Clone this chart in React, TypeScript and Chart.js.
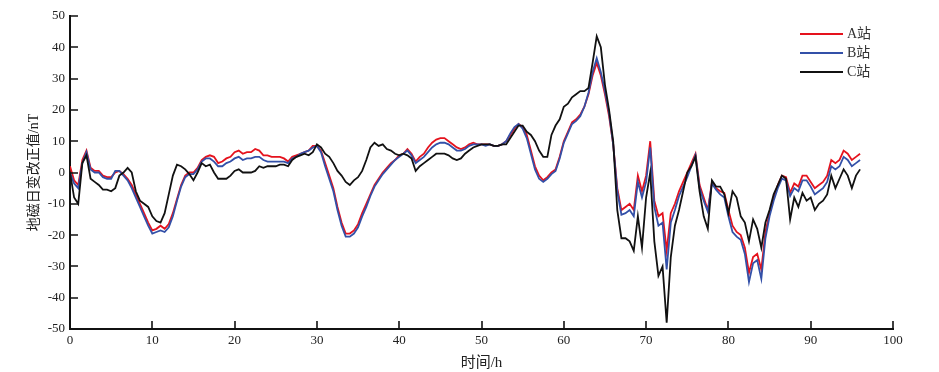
import React, { useEffect, useRef } from "react";
import { Chart, registerables } from "chart.js";

Chart.register(...registerables);

// Sampling step of the series (hours)
const TIME_STEP_H = 0.5;

const SERIES_NAMES = ["A站", "B站", "C站"];
const SERIES_COLORS = ["#e5121d", "#3350a8", "#111111"];

const X_TICKS = [0, 10, 20, 30, 40, 50, 60, 70, 80, 90, 100];
const Y_TICKS = [-50, -40, -30, -20, -10, 0, 10, 20, 30, 40, 50];

// A站 (red), every 0.5 h from 0 to 96 h
const A_STATION = [
  2, -2.5, -4, 4, 7, 1.5, 0.5, 0.5, -1, -1.5,
  -1.5, 0, 0.5, -0.5, -2, -4, -7, -10, -13, -16,
  -18.5, -18, -17, -18, -16.5, -13, -8.5, -4, -1, 0,
  0, 1.5, 4, 5, 5.5, 5, 3, 3.5, 4.5, 5,
  6.5, 7, 6, 6.5, 6.5, 7.5, 7, 5.5, 5.5, 5,
  5, 5, 4.5, 3.5, 5, 5.5, 6, 6.5, 7, 8.5,
  8.5, 7, 3, -1, -5, -11, -16, -19.5, -19.5, -18.5,
  -16.5, -13, -10, -7, -4, -2, 0, 1.5, 3, 4,
  5.5, 6, 7.5, 6, 3.5, 5, 6, 8, 9.5, 10.5,
  11, 11, 10, 9, 8, 7.5, 8, 9, 9.5, 9,
  9, 9, 9, 8.5, 8.5, 9, 10, 12, 14, 15.5,
  14.5, 12, 7, 2, -1, -2.5, -1.5, 0, 1, 5,
  10, 13, 16, 17, 18.5, 21, 25, 31, 35, 31,
  25, 18, 9, -5, -12, -11, -10, -12, -1, -6,
  -1, 10, -9, -14, -13, -25, -13, -10, -6, -3,
  0, 3, 6, -4, -8, -12, -3, -5, -6, -6.5,
  -12, -17, -19, -20, -24, -32, -27, -26, -31, -19,
  -13, -8, -4, -1, -1.5, -6.5, -3.5, -4.5, -1, -1,
  -3, -5, -4, -3, -1, 4, 3, 4, 7, 6,
  4, 5, 6,
];

// B站 (blue)
const B_STATION = [
  0, -3.5, -5, 3, 6.5, 1, 0, 0, -1.5, -2,
  -2, 0.5, 0.5, -1, -2.5, -5, -8, -11, -14, -17,
  -19.5, -19, -18.5, -19, -17.5, -14, -9, -4.5, -1.5, -0.5,
  -0.5, 1, 3.5, 4.5, 4.5, 3.5, 2, 2, 3, 3.5,
  4.5, 5, 4, 4.5, 4.5, 5, 5, 4, 3.5, 3.5,
  3.5, 3.5, 3.5, 3, 4.5, 5, 6, 6.5, 7, 8,
  8.5, 6.5, 2, -2, -6, -12, -17, -20.5, -20.5, -19.5,
  -17.5, -14, -11, -7.5, -4.5, -2.5, -0.5, 1, 2.5, 4,
  5, 6, 7, 5.5, 3, 4, 5, 6.5, 8, 9,
  9.5, 9.5, 9, 8, 7, 7, 7.5, 8.5, 9, 9,
  9, 8.5, 9, 8.5, 8.5, 9, 10, 12.5, 14.5, 15.5,
  14, 11, 6, 1, -2, -3, -2, -0.5, 0.5, 4.5,
  9.5, 12.5, 15.5, 16.5, 18, 21, 25.5, 32, 36.5, 32,
  26, 19, 9, -6, -13.5, -13, -12, -14, -3, -8,
  -3, 8, -11, -17, -16, -31, -16, -12, -7.5, -4.5,
  -1.5, 2, 5.5, -5, -9, -12.5, -3.5, -5.5, -7, -8,
  -14, -19, -20.5, -21.5, -26, -35, -29, -28, -34, -21,
  -14, -9, -5, -2, -2.5, -7.5, -5, -6, -2.5, -2.5,
  -4.5, -7, -6, -5, -3, 2, 1, 2, 5, 4,
  2, 3, 4,
];

// C站 (black)
const C_STATION = [
  0, -8, -10, 3, 5.5, -2, -3, -4, -5.5, -5.5,
  -6, -5, -1, 0, 1.5, 0, -6, -9, -10, -11,
  -14, -15.5, -16, -13, -7, -1, 2.5, 2, 1, -0.5,
  -2.5, 0, 3, 2, 2.5, 0, -2, -2, -2, -1,
  0.5, 1, 0, 0, 0, 0.5, 2, 1.5, 2, 2,
  2, 2.5, 2.5, 2, 4, 5, 5.5, 6, 5.5, 6.5,
  9, 8, 6, 5, 3, 0.5, -1, -3, -4, -2.5,
  -1.5, 0.5, 4, 8, 9.5, 8.5, 9, 7.5, 7, 6,
  5.5, 6, 5.5, 4.5, 0.5, 2, 3, 4, 5, 6,
  6, 6, 5.5, 4.5, 4, 4.5, 6, 7, 8, 8.5,
  9, 9, 9, 8.5, 8.5, 9, 9, 11, 13, 15,
  15, 13, 12, 10, 7, 5, 5, 12, 15, 17,
  21, 22, 24, 25, 26, 26, 27, 35, 43.5, 40,
  28, 20, 10, -12, -21, -21, -22, -25, -14, -24,
  -8, 0, -22, -33, -30, -48, -27, -17, -12, -6,
  0, 2, 5, -6, -14, -18, -2.5, -4.5, -4.5, -7,
  -13, -6, -8, -14, -16, -22, -15, -18, -24, -16,
  -12, -7, -4, -1, -2, -15, -8, -11, -6.5, -9,
  -8, -12, -10, -9, -7, -1, -5, -2, 1, -1,
  -5, -1, 1,
];

const SERIES = [A_STATION, B_STATION, C_STATION];

const FONT_FAMILY = '"Liberation Serif", "Times New Roman", "Noto Sans CJK SC", serif';

const inwardTicks = {
  id: "inwardTicks",
  afterDraw(chart: any) {
    const { ctx, chartArea, scales } = chart;
    const len = 8;
    ctx.save();
    ctx.strokeStyle = "#111";
    ctx.lineWidth = 1.6;
    ctx.beginPath();
    for (const v of X_TICKS) {
      const px = Math.round(scales.x.getPixelForValue(v));
      ctx.moveTo(px, chartArea.bottom);
      ctx.lineTo(px, chartArea.bottom - len);
    }
    for (const v of Y_TICKS) {
      const py = Math.round(scales.y.getPixelForValue(v));
      ctx.moveTo(chartArea.left, py);
      ctx.lineTo(chartArea.left + len, py);
    }
    ctx.stroke();
    ctx.restore();
  },
};

const boxLegend = {
  id: "boxLegend",
  afterDraw(chart: any) {
    const { ctx } = chart;
    const x0 = 800;
    const lineLen = 43;
    const y0 = 34;
    const gap = 19;
    ctx.save();
    ctx.font = "14px " + FONT_FAMILY;
    ctx.textBaseline = "middle";
    ctx.textAlign = "left";
    chart.data.datasets.forEach((ds: any, i: number) => {
      const y = y0 + i * gap;
      ctx.strokeStyle = ds.borderColor;
      ctx.lineWidth = 2;
      ctx.beginPath();
      ctx.moveTo(x0, y);
      ctx.lineTo(x0 + lineLen, y);
      ctx.stroke();
      ctx.fillStyle = "#333";
      ctx.fillText(ds.label, x0 + lineLen + 4, y + 0.5);
    });
    ctx.restore();
  },
};

export default function App() {
  const ref = useRef<HTMLCanvasElement | null>(null);

  useEffect(() => {
    if (!ref.current) return;
    const datasets = SERIES.map((vals, i) => ({
      label: SERIES_NAMES[i],
      data: vals.map((v, k) => ({ x: k * TIME_STEP_H, y: v })),
      borderColor: SERIES_COLORS[i],
      backgroundColor: SERIES_COLORS[i],
      borderWidth: 1.8,
      pointRadius: 0,
      tension: 0,
      fill: false,
      order: 2 - i,
    }));
    const chart = new Chart(ref.current, {
      type: "line",
      data: { datasets },
      plugins: [inwardTicks, boxLegend],
      options: {
        animation: false,
        responsive: false,
        maintainAspectRatio: false,
        layout: { padding: { left: 0, top: 16, right: 46, bottom: 0 } },
        plugins: {
          legend: { display: false },
          tooltip: { enabled: false },
        },
        scales: {
          x: {
            type: "linear",
            min: 0,
            max: 100,
            afterFit: (s: any) => {
              s.height = 43;
            },
            afterBuildTicks: (s: any) => {
              s.ticks = X_TICKS.map((v) => ({ value: v }));
            },
            grid: { display: false },
            border: { display: true, color: "#111", width: 2 },
            ticks: {
              color: "#222",
              padding: -4,
              maxRotation: 0,
              font: { family: FONT_FAMILY, size: 13 },
            },
            title: {
              display: true,
              text: "时间/h",
              color: "#222",
              padding: { top: 0, bottom: 0 },
              font: { family: FONT_FAMILY, size: 15 },
            },
          },
          y: {
            type: "linear",
            min: -50,
            max: 50,
            afterFit: (s: any) => {
              s.width = 70;
            },
            afterBuildTicks: (s: any) => {
              s.ticks = Y_TICKS.map((v) => ({ value: v }));
            },
            grid: { display: false },
            border: { display: true, color: "#111", width: 2 },
            ticks: {
              color: "#222",
              padding: -3,
              font: { family: FONT_FAMILY, size: 13 },
            },
            title: {
              display: true,
              text: "地磁日变改正值/nT",
              color: "#222",
              padding: { top: 26, bottom: 0 },
              font: { family: FONT_FAMILY, size: 14 },
            },
          },
        },
      },
    });
    return () => chart.destroy();
  }, []);

  return (
    <div style={{ position: "fixed", left: 0, top: 0, width: 939, height: 372, background: "#fff" }}>
      <canvas ref={ref} width={939} height={372} style={{ width: 939, height: 372 }} />
    </div>
  );
}
